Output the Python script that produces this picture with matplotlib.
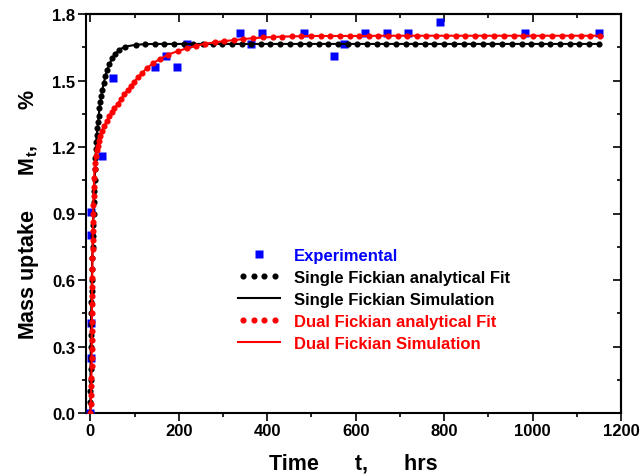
import matplotlib
matplotlib.use("Agg")
import matplotlib.pyplot as plt
from matplotlib.ticker import MultipleLocator, FormatStrFormatter
from matplotlib.legend_handler import HandlerLine2D

plt.rcParams['font.family'] = 'Liberation Sans'
plt.rcParams['font.weight'] = 'bold'
plt.rcParams['axes.labelweight'] = 'bold'
plt.rcParams['mathtext.fontset'] = 'custom'
plt.rcParams['mathtext.rm'] = 'Liberation Sans:bold'
plt.rcParams['mathtext.it'] = 'Liberation Sans:bold'
plt.rcParams['mathtext.default'] = 'rm'

# Experimental mass uptake (%) vs time (hrs)
exp_t = [0, 0.25, 0.5, 1.0, 2.0, 26.5, 50, 147, 171, 195, 219, 339, 363, 387,
         484, 550, 573, 622, 670, 718, 790, 984, 1151]
exp_m = [0.0, 0.25, 0.405, 0.805, 0.905, 1.16, 1.51, 1.56, 1.61, 1.56, 1.665, 1.715,
         1.665, 1.715, 1.715, 1.61, 1.665, 1.715, 1.715, 1.715, 1.765, 1.715, 1.715]

# Single Fickian model curve
single_t = [0, 0.02, 0.09, 0.19, 0.35, 0.54, 0.78, 1.06, 1.38, 1.75, 2.16, 2.6, 3.1,
            3.65, 4.2, 4.9, 5.5, 6.25, 7.0, 7.8, 8.65, 9.5, 10.5, 11.4, 12.2, 12.9,
            14.3, 15.8, 17.4, 18.8, 20.3, 22.6, 24.9, 27.1, 30.1, 34, 37.8, 43, 49,
            56, 65, 79,
            102, 124, 146, 167, 189, 211, 233, 255, 277, 298, 320, 342, 364, 386,
            407, 429, 451, 473, 495, 517, 538, 560, 582, 604, 626, 648, 669, 691,
            713, 735, 757, 778, 800, 822, 844, 866, 888, 909, 931, 953, 975, 997,
            1018, 1040, 1062, 1084, 1106, 1128, 1150]
single_m = [0, 0.05, 0.10, 0.15, 0.20, 0.25, 0.30, 0.35, 0.40, 0.45, 0.50, 0.55, 0.60,
            0.65, 0.70, 0.75, 0.80, 0.85, 0.90, 0.95, 1.00, 1.05, 1.10, 1.15, 1.19, 1.224,
            1.254, 1.285, 1.314, 1.342, 1.375, 1.402, 1.432, 1.459, 1.489, 1.519, 1.547,
            1.574, 1.600, 1.620, 1.639, 1.653,
            1.661, 1.664, 1.665, 1.665, 1.665, 1.665, 1.665, 1.665, 1.665, 1.665,
            1.665, 1.665, 1.665, 1.665, 1.665, 1.665, 1.665, 1.665, 1.665, 1.665,
            1.665, 1.665, 1.665, 1.665, 1.665, 1.665, 1.665, 1.665, 1.665, 1.665,
            1.665, 1.665, 1.665, 1.665, 1.665, 1.665, 1.665, 1.665, 1.665, 1.665,
            1.665, 1.665, 1.665, 1.665, 1.665, 1.665, 1.665, 1.665, 1.665]

# Dual Fickian model curve
dual_t = [0, 0.8, 1.5, 2.0, 2.3, 2.5, 2.7, 2.9, 3.0, 3.2, 3.3, 3.5, 3.6, 3.8, 3.9,
          4.1, 4.3, 4.5, 4.8, 5.1, 5.4, 5.8, 6.2, 6.6, 7.1, 7.7, 8.4, 9.3, 10.5, 12.0,
          14.0, 16.5, 18.8, 21.9, 26.5, 31.7, 36.9, 43, 49, 54.3, 61.8, 69.4, 76.9,
          84.4, 92, 99.5, 107, 117, 128, 141, 157, 176, 197, 218, 239, 260, 281, 303,
          324, 346, 368, 390, 412, 433, 455, 477, 499, 521, 542, 564, 586, 608, 630,
          651, 673, 695, 717, 739, 760, 782, 804, 826, 848, 870, 891, 913, 935, 957,
          979, 1000, 1022, 1044, 1066, 1088, 1110, 1131, 1153]
dual_m = [0, 0.04, 0.08, 0.12, 0.16, 0.21, 0.25, 0.29, 0.33, 0.37, 0.41, 0.45, 0.49,
          0.53, 0.57, 0.61, 0.65, 0.70, 0.74, 0.78, 0.82, 0.86, 0.90, 0.94, 0.98, 1.02,
          1.06, 1.10, 1.13, 1.16, 1.185, 1.206, 1.228, 1.251, 1.273, 1.296, 1.318,
          1.338, 1.359, 1.374, 1.394, 1.416, 1.439, 1.457, 1.476, 1.494, 1.514, 1.535,
          1.556, 1.577, 1.597, 1.617, 1.632, 1.645, 1.657, 1.666, 1.672, 1.678, 1.682,
          1.687, 1.691, 1.694, 1.696, 1.698, 1.699, 1.700, 1.701, 1.701, 1.701, 1.701,
          1.701, 1.701, 1.701, 1.702, 1.702, 1.702, 1.702, 1.702, 1.702, 1.702, 1.702,
          1.702, 1.702, 1.702, 1.702, 1.702, 1.702, 1.702, 1.702, 1.702, 1.702, 1.702,
          1.702, 1.702, 1.702, 1.702, 1.702]

fig = plt.figure(figsize=(6.43, 4.77), dpi=100)
ax = fig.add_axes([86 / 643, 1 - 414 / 477, 535 / 643, 399 / 477])

ax.plot(exp_t, exp_m, 's', color='#0000ff', ms=5.8, mec='none', label='Experimental', zorder=3)
fit1, = ax.plot(single_t, single_m, 'o', color='black', ms=3.4, ls='none',
                label='Single Fickian analytical Fit', zorder=4)
ax.plot(single_t, single_m, '-', color='black', lw=1.5,
        label='Single Fickian Simulation', zorder=4)
fit2, = ax.plot(dual_t, dual_m, 'o', color='red', ms=3.4, ls='none',
                label='Dual Fickian analytical Fit', zorder=5)
ax.plot(dual_t, dual_m, '-', color='red', lw=1.5,
        label='Dual Fickian Simulation', zorder=5)

ax.set_xlim(-10, 1200)
ax.set_ylim(0, 1.8)
ax.xaxis.set_major_locator(MultipleLocator(200))
ax.xaxis.set_minor_locator(MultipleLocator(100))
ax.yaxis.set_major_locator(MultipleLocator(0.3))
ax.yaxis.set_minor_locator(MultipleLocator(0.15))
ax.yaxis.set_major_formatter(FormatStrFormatter('%.1f'))

for s in ax.spines.values():
    s.set_linewidth(1.5)
ax.tick_params(which='both', direction='out', width=1.2, labelsize=12, pad=2)
ax.tick_params(which='major', length=5.5)
ax.tick_params(which='minor', length=3)

# mirrored ticks on top and right, pointing inward
top = ax.secondary_xaxis('top')
top.xaxis.set_major_locator(MultipleLocator(200))
top.xaxis.set_minor_locator(MultipleLocator(100))
top.tick_params(which='both', direction='in', width=1.2, labeltop=False)
top.tick_params(which='major', length=5.5)
top.tick_params(which='minor', length=3)
right = ax.secondary_yaxis('right')
right.yaxis.set_major_locator(MultipleLocator(0.3))
right.yaxis.set_minor_locator(MultipleLocator(0.15))
right.tick_params(which='both', direction='in', width=1.2, labelright=False)
right.tick_params(which='major', length=5.5)
right.tick_params(which='minor', length=3)
for sec in (top, right):
    for s in sec.spines.values():
        s.set_linewidth(1.5)

ax.set_xlabel('Time      t,      hrs', fontsize=15.5, labelpad=10)
ax.set_ylabel('Mass uptake      M$_t$,      %', fontsize=15.5, labelpad=8)

leg = ax.legend(loc='upper left', bbox_to_anchor=(238 / 643, 1 - 249 / 477),
                bbox_transform=fig.transFigure, frameon=False, fontsize=12,
                borderpad=0, borderaxespad=0, handlelength=2.5, handletextpad=0.85,
                labelspacing=0.42,
                handler_map={fit1: HandlerLine2D(numpoints=4),
                             fit2: HandlerLine2D(numpoints=4)})
for txt, c in zip(leg.get_texts(), ['#0000ff', 'black', 'black', 'red', 'red']):
    txt.set_color(c)

fig.savefig('out.png', dpi=100)
